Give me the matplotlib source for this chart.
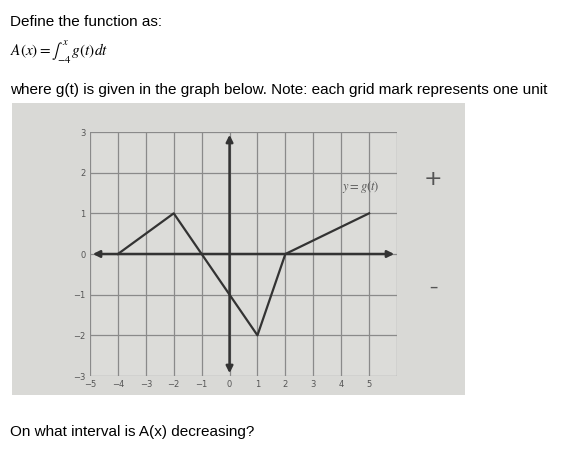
import matplotlib
matplotlib.use("Agg")
import matplotlib.pyplot as plt

plt.rcParams['mathtext.fontset'] = 'stix'

t_pts = [-4, -2, 0, 1, 2, 5]
g_pts = [0, 1, -1, -2, 0, 1]
x_ticks = [-5, -4, -3, -2, -1, 0, 1, 2, 3, 4, 5]
y_ticks = [-3, -2, -1, 0, 1, 2, 3]

W, H = 588, 459
fig = plt.figure(figsize=(W/100, H/100), dpi=100)
fig.patch.set_facecolor("white")

def fx(px): return px / W
def fy(py): return 1 - py / H

fig.text(fx(10), fy(22), "Define the function as:", fontsize=11, family="Liberation Sans", va="center")
fig.text(fx(10), fy(52), r"$A(x) = \int_{-4}^{x}\, g(t)dt$", fontsize=11, va="center")
fig.text(fx(10), fy(90), "where g(t) is given in the graph below. Note: each grid mark represents one unit",
         fontsize=11, family="Liberation Sans", va="center")
fig.text(fx(10), fy(432), "On what interval is A(x) decreasing?", fontsize=11, family="Liberation Sans", va="center")

bg = fig.add_axes([fx(12), fy(395), 453/W, 292/H])
bg.set_facecolor("#d9d9d6")
bg.set_xticks([]); bg.set_yticks([])
for s in bg.spines.values(): s.set_visible(False)
bg.text(0.93, 0.74, "+", fontsize=16, color="#555", ha="center", va="center", transform=bg.transAxes)
bg.text(0.93, 0.37, "–", fontsize=12, color="#555", ha="center", va="center", transform=bg.transAxes)

ax = fig.add_axes([fx(90), fy(376), 307/W, 244/H])
ax.set_facecolor("#dcdcd9")
ax.set_xlim(-5, 6); ax.set_ylim(-3, 3)
for x in range(-5, 7):
    ax.axvline(x, color="#8a8a8a", lw=0.9)
for y in range(-3, 4):
    ax.axhline(y, color="#8a8a8a", lw=0.9)
for s in ax.spines.values(): s.set_visible(False)
ax.set_xticks(x_ticks); ax.set_yticks(y_ticks)
ax.tick_params(length=0, labelsize=6, colors="#555", pad=3)
ax.annotate("", xy=(-5, 0), xytext=(6, 0), arrowprops=dict(arrowstyle="<|-|>", color="#333", lw=1.8, mutation_scale=10))
ax.annotate("", xy=(0, 3), xytext=(0, -3), arrowprops=dict(arrowstyle="<|-|>", color="#333", lw=1.8, mutation_scale=10))
ax.plot(t_pts, g_pts, color="#333", lw=1.6)
ax.text(4.7, 1.45, r"$y = g(t)$", fontsize=9, color="#555", ha="center", va="bottom")

fig.savefig("out.png", dpi=100)
